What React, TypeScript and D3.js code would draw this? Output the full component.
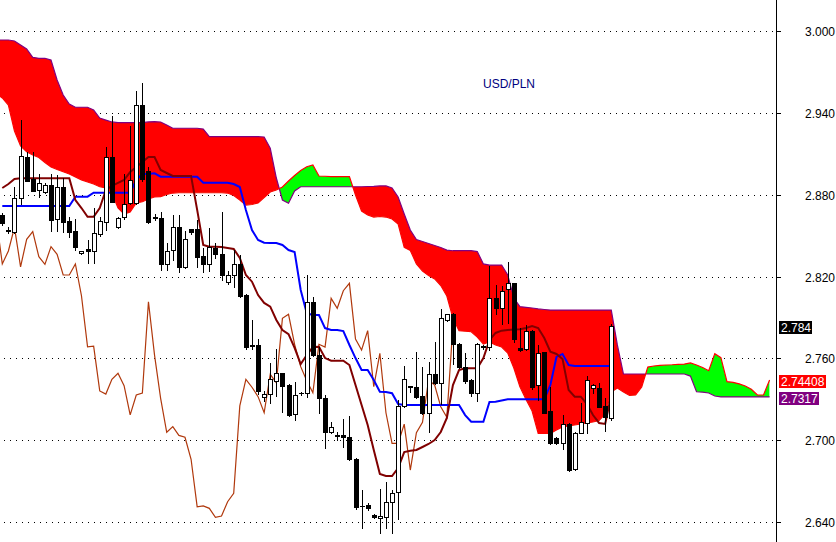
import * as d3 from 'd3'
import { useEffect } from 'react'

// candles (USD/PLN), oldest first
const opens = [
  2.8651, 2.854, 2.8529, 2.8773, 2.9078, 2.8917, 2.8834, 2.882, 2.8871, 2.8619,
  2.8858, 2.8607, 2.8536, 2.837, 2.8399, 2.8387, 2.8509, 2.8602, 2.9074, 2.8561,
  2.8634, 2.8737, 2.8737, 2.9457, 2.8976, 2.8636, 2.8627, 2.8292, 2.8392, 2.856,
  2.8271, 2.8548, 2.8546, 2.835, 2.8292, 2.8412, 2.8365, 2.8159, 2.8211, 2.8292,
  2.8064, 2.7695, 2.7698, 2.7313, 2.7338, 2.7436, 2.749, 2.7402, 2.7192, 2.7344,
  2.7343, 2.8015, 2.7624, 2.7307, 2.7058, 2.7033, 2.7038, 2.7021, 2.6864, 2.652,
  2.6525, 2.6451, 2.6428, 2.6439, 2.6549, 2.6618, 2.7251, 2.74, 2.739, 2.7324,
  2.7201, 2.7483, 2.7421, 2.7881, 2.7923, 2.7703, 2.7534, 2.7441, 2.7348, 2.7687,
  2.7685, 2.804, 2.7967, 2.8106, 2.815, 2.7673, 2.7665, 2.7803, 2.7405, 2.7644,
  2.7214, 2.7013, 2.6977, 2.7118, 2.6785, 2.7055, 2.7128, 2.738, 2.738, 2.7251,
  2.716,
]
const highs = [
  2.8665, 2.8561, 2.8858, 2.9347, 2.9115, 2.9111, 2.8952, 2.8883, 2.8949, 2.8944,
  2.892, 2.8639, 2.8619, 2.839, 2.8464, 2.87, 2.8639, 2.9152, 2.9377, 2.8638,
  2.8952, 2.9304, 2.956, 2.9617, 2.9003, 2.8656, 2.8675, 2.8448, 2.8651, 2.8651,
  2.8536, 2.8551, 2.8614, 2.8407, 2.8558, 2.8444, 2.8675, 2.8243, 2.8394, 2.8357,
  2.807, 2.7881, 2.7739, 2.7364, 2.7564, 2.7666, 2.7495, 2.7409, 2.7429, 2.7354,
  2.8211, 2.8052, 2.7685, 2.7331, 2.7136, 2.706, 2.7155, 2.7177, 2.6866, 2.6635,
  2.654, 2.6455, 2.664, 2.6695, 2.6635, 2.7294, 2.7544, 2.74, 2.7649, 2.7539,
  2.7575, 2.7722, 2.7962, 2.7928, 2.793, 2.771, 2.7637, 2.745, 2.771, 2.77,
  2.8277, 2.8138, 2.813, 2.8308, 2.8155, 2.782, 2.7844, 2.781, 2.7698, 2.765,
  2.7392, 2.702, 2.7184, 2.7125, 2.7062, 2.727, 2.747, 2.741, 2.7417, 2.7307,
  2.7851,
]
const lows = [
  2.8575, 2.8517, 2.8517, 2.8732, 2.8898, 2.8825, 2.8785, 2.881, 2.8536, 2.8536,
  2.8529, 2.8492, 2.8394, 2.8365, 2.8297, 2.8297, 2.85, 2.8541, 2.8745, 2.8556,
  2.8622, 2.8734, 2.8734, 2.89, 2.8595, 2.8614, 2.8248, 2.8248, 2.8321, 2.8235,
  2.826, 2.8514, 2.8272, 2.8235, 2.8243, 2.8335, 2.8174, 2.8145, 2.8123, 2.805,
  2.767, 2.767, 2.734, 2.7284, 2.7275, 2.7324, 2.7209, 2.718, 2.7148, 2.7334,
  2.7318, 2.7616, 2.7197, 2.694, 2.705, 2.7004, 2.6952, 2.6855, 2.6493, 2.6354,
  2.649, 2.643, 2.6317, 2.6354, 2.6317, 2.6419, 2.724, 2.7356, 2.731, 2.719,
  2.7062, 2.741, 2.7263, 2.7877, 2.7556, 2.753, 2.742, 2.7325, 2.7287, 2.767,
  2.7661, 2.7925, 2.7852, 2.7856, 2.7722, 2.7655, 2.766, 2.7373, 2.7294, 2.7197,
  2.697, 2.697, 2.6933, 2.6776, 2.678, 2.705, 2.705, 2.7348, 2.724, 2.7069,
  2.715,
]
const closes = [
  2.8591, 2.8535, 2.8773, 2.9084, 2.8902, 2.8829, 2.8888, 2.8869, 2.8614, 2.8854,
  2.8597, 2.8529, 2.8419, 2.8387, 2.8387, 2.8517, 2.8607, 2.9074, 2.8748, 2.8627,
  2.8729, 2.8907, 2.9457, 2.8913, 2.8602, 2.8631, 2.8292, 2.8387, 2.856, 2.8271,
  2.8473, 2.8529, 2.8345, 2.8289, 2.8419, 2.8363, 2.8211, 2.8211, 2.8292, 2.8059,
  2.7685, 2.769, 2.7361, 2.7338, 2.7446, 2.749, 2.7399, 2.7185, 2.7331, 2.7346,
  2.8015, 2.7624, 2.7307, 2.7058, 2.7099, 2.7035, 2.7021, 2.686, 2.6512, 2.6518,
  2.65, 2.6434, 2.6444, 2.6549, 2.661, 2.7251, 2.7446, 2.7388, 2.7319, 2.7201,
  2.7483, 2.7421, 2.7893, 2.7923, 2.7703, 2.7539, 2.7436, 2.7348, 2.7703, 2.7682,
  2.804, 2.7967, 2.8096, 2.815, 2.7741, 2.7661, 2.7803, 2.7392, 2.7637, 2.7201,
  2.6977, 2.6977, 2.7118, 2.6781, 2.7055, 2.7131, 2.7441, 2.7404, 2.7245, 2.7168,
  2.784,
]

// tenkan-sen, one per candle
const tenkan = [
  2.8849, 2.8878, 2.8915, 2.892, 2.892, 2.892, 2.892, 2.892, 2.892, 2.892,
  2.892, 2.892, 2.8761, 2.8702, 2.8638, 2.8638, 2.8702, 2.8834, 2.8864, 2.8886,
  2.8908, 2.8966, 2.9003, 2.904, 2.9076, 2.9076, 2.8981, 2.8959, 2.8937, 2.8937,
  2.8937, 2.8937, 2.8688, 2.8431, 2.8419, 2.8419, 2.8416, 2.8409, 2.8402, 2.8336,
  2.8211, 2.8162, 2.8064, 2.8006, 2.7979, 2.7881, 2.7808, 2.7778, 2.7676, 2.7558,
  2.7624, 2.7683, 2.7685, 2.7602, 2.7583, 2.7583, 2.7583, 2.7551, 2.7404, 2.7258,
  2.7111, 2.6928, 2.6752, 2.6737, 2.6737, 2.6796, 2.6913, 2.6923, 2.6928, 2.695,
  2.6972, 2.7001, 2.706, 2.7163, 2.7404, 2.7514, 2.7527, 2.7527, 2.7527, 2.7602,
  2.7734, 2.7786, 2.7803, 2.7808, 2.7811, 2.7813, 2.7822, 2.7837, 2.7822, 2.7749,
  2.7649, 2.7632, 2.7595, 2.7368, 2.7319, 2.7319, 2.7265, 2.7184, 2.7126, 2.7119,
  2.7331,
]

// kijun-sen, one per candle
const kijun = [
  2.8717, 2.8717, 2.8717, 2.8717, 2.8717, 2.8717, 2.8717, 2.8717, 2.8717, 2.8717,
  2.8717, 2.8717, 2.8785, 2.8785, 2.8785, 2.8814, 2.8814, 2.8814, 2.8814, 2.8814,
  2.8814, 2.8814, 2.8908, 2.8952, 2.8952, 2.8957, 2.8932, 2.8932, 2.8932, 2.8932,
  2.8932, 2.8932, 2.8932, 2.8888, 2.8888, 2.8888, 2.8888, 2.8888, 2.8878, 2.8856,
  2.8688, 2.8541, 2.8468, 2.8448, 2.8446, 2.8446, 2.8431, 2.8394, 2.838, 2.8101,
  2.793, 2.7918, 2.7918, 2.7822, 2.7808, 2.7808, 2.78, 2.7698, 2.7602, 2.7514,
  2.7514, 2.7441, 2.7355, 2.7353, 2.7344, 2.7265, 2.7258, 2.7258, 2.7258, 2.7258,
  2.7258, 2.7258, 2.7258, 2.7258, 2.7258, 2.7258, 2.7184, 2.7135, 2.7135, 2.7135,
  2.728, 2.7282, 2.7291, 2.73, 2.73, 2.73, 2.73, 2.73, 2.73, 2.73,
  2.7404, 2.761, 2.7632, 2.7551, 2.7544, 2.7544, 2.7544, 2.7544, 2.7544, 2.7544,
  2.7544,
]

// senkou spans, from one bar before the first candle to 26 bars past the last
const senkouA = [
  2.9545,
  2.9509, 2.9457, 2.9267, 2.9157, 2.9115, 2.9091, 2.9073, 2.9036, 2.9003, 2.8985,
  2.8968, 2.8952, 2.893, 2.8908, 2.8893, 2.8878, 2.8858, 2.8849, 2.8812, 2.8702,
  2.8658, 2.8673, 2.8739, 2.8748, 2.8768, 2.8783, 2.8785, 2.8801, 2.8812, 2.8814,
  2.8814, 2.8814, 2.8814, 2.8814, 2.8814, 2.8814, 2.8814, 2.8812, 2.8794, 2.8761,
  2.8724, 2.8728, 2.8739, 2.8779, 2.882, 2.8834, 2.8856, 2.89, 2.8941, 2.8977,
  2.9005, 2.9018, 2.8937, 2.8935, 2.8933, 2.8932, 2.8932, 2.8932, 2.8798, 2.868,
  2.8651, 2.8636, 2.864, 2.8636, 2.8622, 2.8585, 2.8413, 2.8391, 2.8292, 2.824,
  2.8207, 2.8182, 2.8134, 2.8057, 2.7896, 2.7803, 2.7799, 2.7795, 2.7756, 2.7705,
  2.772, 2.7698, 2.7683, 2.7639, 2.7529, 2.7392, 2.7298, 2.7214, 2.705, 2.705,
  2.705, 2.7075, 2.7097, 2.7104, 2.7111, 2.7119, 2.7126, 2.7133, 2.7144, 2.7192,
  2.7353, 2.7382, 2.7353, 2.7328, 2.7331, 2.739, 2.7536, 2.7544, 2.7549, 2.7551,
  2.7553, 2.7556, 2.7558, 2.7566, 2.7551, 2.7533, 2.7509, 2.7634, 2.7605, 2.7429,
  2.7424, 2.7413, 2.7397, 2.7373, 2.7331, 2.7331, 2.74408,
]
const senkouB = [
  2.9934,
  2.9934, 2.9934, 2.9927, 2.9897, 2.9868, 2.9807, 2.98, 2.98, 2.9787, 2.9641,
  2.9531, 2.9465, 2.9441, 2.9441, 2.9441, 2.9421, 2.9362, 2.9347, 2.9333, 2.9328,
  2.9328, 2.9328, 2.9328, 2.9328, 2.9333, 2.9335, 2.9333, 2.9311, 2.9287, 2.9287,
  2.9287, 2.9287, 2.9287, 2.9281, 2.9225, 2.9225, 2.9225, 2.9225, 2.9225, 2.9225,
  2.9225, 2.9225, 2.9225, 2.9223, 2.914, 2.8922, 2.8761, 2.8737, 2.8827, 2.8858,
  2.8858, 2.8858, 2.8858, 2.8858, 2.8858, 2.8858, 2.8858, 2.8858, 2.8858, 2.8858,
  2.886, 2.8861, 2.8864, 2.8864, 2.8849, 2.8783, 2.8658, 2.8541, 2.8471, 2.8457,
  2.8442, 2.8427, 2.8413, 2.8394, 2.8389, 2.8389, 2.8389, 2.8389, 2.8383, 2.8292,
  2.8284, 2.8284, 2.8284, 2.8211, 2.8042, 2.7979, 2.7974, 2.7969, 2.7962, 2.7958,
  2.7954, 2.7954, 2.7954, 2.7954, 2.7954, 2.7954, 2.7954, 2.7954, 2.7954, 2.7954,
  2.7954, 2.7698, 2.7485, 2.7485, 2.7485, 2.7485, 2.7485, 2.7485, 2.7485, 2.7485,
  2.7485, 2.7485, 2.7485, 2.747, 2.7355, 2.7352, 2.7346, 2.7324, 2.7317, 2.7317,
  2.7317, 2.7317, 2.7317, 2.7317, 2.7317, 2.7317, 2.7317,
]

const priceTicks = [3.0, 2.94, 2.88, 2.82, 2.76, 2.7, 2.64]
const symbol = 'USD/PLN'

const width = 836
const height = 542
const axisX = 776
const font = '"Liberation Sans", Arial, sans-serif'

type Pt = [number, number]

export default function App() {
  useEffect(() => {
    document.body.style.margin = '0'
  }, [])

  const x = d3.scaleLinear([0, 126], [2.3, 769.6])
  const y = d3.scaleLinear([2.64, 3.0], [522, 31])

  const line = d3
    .line<Pt>()
    .x((d) => x(d[0]))
    .y((d) => y(d[1]))

  // chikou span = close shifted 26 bars back
  const chikou: Pt[] = closes.slice(25).map((c, k) => [k - 1, c])
  const tenkanPts: Pt[] = tenkan.map((v, i) => [i, v])
  const kijunPts: Pt[] = kijun.map((v, i) => [i, v])
  const aPts: Pt[] = senkouA.map((v, k) => [k - 1, v])
  const bPts: Pt[] = senkouB.map((v, k) => [k - 1, v])

  const cloud = senkouA.map((a, k) => ({ i: k - 1, a, b: senkouB[k] }))
  type C = (typeof cloud)[number]
  const cloudArea = d3
    .area<C>()
    .x((d) => x(d.i))
    .y0((d) => y(d.a))
    .y1((d) => y(d.b))
  const aboveA = d3
    .area<C>()
    .x((d) => x(d.i))
    .y0(0)
    .y1((d) => y(d.a))
  const belowA = d3
    .area<C>()
    .x((d) => x(d.i))
    .y0((d) => y(d.a))
    .y1(height)

  const fmt = d3.format('.3f')
  const lastClose = closes[closes.length - 1]
  const lastA = senkouA[senkouA.length - 1]
  const lastB = senkouB[senkouB.length - 1]
  const tags = [
    { v: lastClose, text: '2.784', fill: '#000000', w: 33 },
    { v: lastA, text: String(lastA), fill: '#ff0000', w: 47 },
    { v: lastB, text: String(lastB), fill: '#800080', w: 40 },
  ]

  return (
    <svg
      width={width}
      height={height}
      style={{ position: 'absolute', left: 0, top: 0, background: '#fff' }}
      fontFamily={font}
    >
      <defs>
        <clipPath id="above-a">
          <path d={aboveA(cloud) as string} />
        </clipPath>
        <clipPath id="below-a">
          <path d={belowA(cloud) as string} />
        </clipPath>
      </defs>
      <rect width={width} height={height} fill="#fff" />

      {/* grid */}
      {priceTicks.map((t) => {
        const yy = Math.round(y(t)) + 0.5
        return (
          <g key={t}>
            <line
              x1={4}
              x2={axisX}
              y1={yy}
              y2={yy}
              stroke="#000"
              strokeDasharray="1 5"
              shapeRendering="crispEdges"
            />
            <line x1={axisX} x2={axisX + 5} y1={yy} y2={yy} stroke="#000" shapeRendering="crispEdges" />
            <text x={805} y={yy} dy="0.35em" fontSize={12} fill="#000">
              {fmt(t)}
            </text>
          </g>
        )
      })}

      {/* kumo */}
      <path d={cloudArea(cloud) as string} fill="#ff0000" clipPath="url(#above-a)" />
      <path d={cloudArea(cloud) as string} fill="#00ff00" clipPath="url(#below-a)" />
      <path d={line(bPts) as string} fill="none" stroke="#800080" strokeWidth={1.2} />
      <path d={line(aPts) as string} fill="none" stroke="#ff0000" strokeWidth={1.2} />

      {/* lines */}
      <path d={line(chikou) as string} fill="none" stroke="#b0380c" strokeWidth={1.2} />
      <path d={line(kijunPts) as string} fill="none" stroke="#0000ff" strokeWidth={2} />
      <path d={line(tenkanPts) as string} fill="none" stroke="#800000" strokeWidth={2} />

      {/* candles */}
      <g shapeRendering="crispEdges">
        {opens.map((o, i) => {
          const c = closes[i]
          const cx = Math.round(x(i)) + 0.5
          const yo = Math.round(y(o))
          const yc = Math.round(y(c))
          const top = Math.min(yo, yc)
          const bot = Math.max(yo, yc)
          return (
            <g key={i}>
              <line
                x1={cx}
                x2={cx}
                y1={Math.round(y(highs[i]))}
                y2={Math.round(y(lows[i])) + 1}
                stroke="#000"
              />
              {bot - top < 1 ? (
                <line x1={cx - 2.5} x2={cx + 2.5} y1={top + 0.5} y2={top + 0.5} stroke="#000" />
              ) : (
                <rect
                  x={cx - 2}
                  y={top + 0.5}
                  width={4}
                  height={bot - top}
                  fill={c >= o ? '#fff' : '#000'}
                  stroke="#000"
                />
              )}
            </g>
          )
        })}
      </g>

      {/* price axis */}
      <line x1={axisX + 0.5} x2={axisX + 0.5} y1={0} y2={height} stroke="#000" shapeRendering="crispEdges" />
      {tags.map((t) => {
        const top = Math.round(y(t.v)) - 5
        return (
          <g key={t.text}>
            <rect x={779} y={top} width={t.w} height={13} fill={t.fill} />
            <text x={781} y={top + 11} fontSize={12} fill="#fff">
              {t.text}
            </text>
          </g>
        )
      })}

      <text x={483} y={88} fontSize={12} fill="#000080">
        {symbol}
      </text>
    </svg>
  )
}
